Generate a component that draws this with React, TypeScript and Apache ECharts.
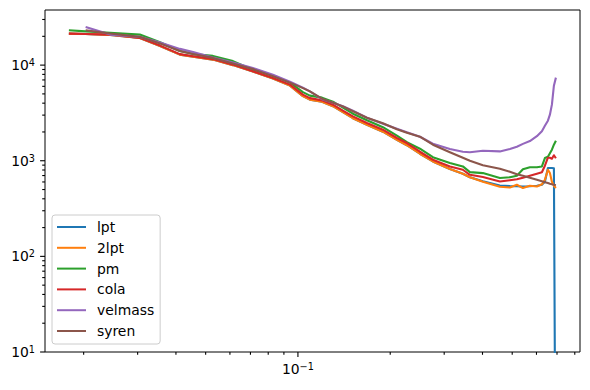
import React, { useEffect, useRef } from "react";
import * as echarts from "echarts";

// wavenumber grid
const k = [0.0179, 0.0203, 0.0244, 0.0305, 0.0355, 0.0412, 0.0455, 0.0528, 0.0614, 0.0713, 0.0829, 0.0942, 0.1038, 0.1094, 0.1198, 0.1301, 0.1402, 0.1511, 0.1679, 0.1893, 0.2103, 0.2267, 0.25, 0.2756, 0.3131, 0.3452, 0.3639, 0.4012, 0.4558, 0.4915, 0.5178, 0.5419, 0.5711, 0.6018, 0.6249, 0.6392, 0.6538, 0.6637, 0.6737, 0.6839, 0.6943];

const lpt = [21370, 21120, 20710, 19180, 15810, 12880, 12270, 11420, 10000, 8551, 7222, 6101, 4737, 4353, 4148, 3721, 3220, 2786, 2382, 2012, 1659, 1453, 1184, 983, 819, 731, 672, 610, 551, 543, 541, 538, 541, 547, 561, 603, 839, 839, 839, 835, 0.05];
const lpt2 = [21370, 21120, 20710, 19180, 15810, 12880, 12270, 11420, 10000, 8551, 7222, 6101, 4737, 4353, 4148, 3721, 3220, 2786, 2382, 2012, 1659, 1453, 1184, 983, 819, 731, 672, 603, 534, 525, 561, 518, 547, 538, 567, 632, 805, 743, 603, 547, 518];
const pm = [23140, 22530, 21790, 20860, 17330, 14020, 13040, 12480, 11010, 8974, 7671, 6559, 5216, 4794, 4568, 4148, 3589, 3105, 2656, 2243, 1827, 1562, 1336, 1088, 946, 872, 761, 743, 659, 672, 696, 815, 855, 855, 872, 1067, 1101, 1198, 1304, 1471, 1620];
const cola = [21370, 21120, 20860, 19270, 16000, 13040, 12360, 11560, 10120, 8613, 7345, 6250, 4911, 4513, 4280, 3858, 3339, 2910, 2481, 2112, 1728, 1532, 1242, 1024, 872, 805, 713, 675, 607, 625, 640, 664, 696, 731, 758, 887, 1075, 1075, 1049, 1141, 1062];
const velmass = [null, 24990, 20860, 19740, 17200, 14780, 13680, 11980, 10620, 9303, 7953, 6719, 5814, 5317, 4406, 4049, 3721, 3339, 2820, 2440, 2163, 1988, 1783, 1507, 1326, 1242, 1227, 1273, 1252, 1329, 1402, 1500, 1608, 1805, 2037, 2325, 2623, 3031, 3858, 6101, 7400];
const syren = [null, 23140, 21370, 19740, 16790, 14020, 13040, 11900, 10370, 9082, 7671, 6559, 5744, 5317, 4459, 4049, 3703, 3298, 2820, 2469, 2137, 1964, 1783, 1471, 1227, 1075, 1000, 897, 825, 767, 722, 696, 664, 632, 610, 595, 584, 574, 567, 561, 554];

const seriesNames = ["lpt", "2lpt", "pm", "cola", "velmass", "syren"];
const seriesValues = [lpt, lpt2, pm, cola, velmass, syren];
const colors = ["#1f77b4", "#ff7f0e", "#2ca02c", "#d62728", "#9467bd", "#8c564b"];

// axis ranges and ticks
const X_MIN = 0.01496;
const X_MAX = 0.832;
const Y_MIN = 10;
const Y_MAX = 37700;
const xMajorTicks = [0.1];
const xMinorTicks = [0.02, 0.03, 0.04, 0.05, 0.06, 0.07, 0.08, 0.09, 0.2, 0.3, 0.4, 0.5, 0.6, 0.7, 0.8];
const yMajorTicks = [10, 100, 1000, 10000];
const yMinorTicks = [20, 30, 40, 50, 60, 70, 80, 90, 200, 300, 400, 500, 600, 700, 800, 900, 2000, 3000, 4000, 5000, 6000, 7000, 8000, 9000, 20000, 30000];

const FONT = "DejaVu Sans";

function sciLabel(v: number): string {
  const l = Math.log10(v);
  const e = Math.round(l);
  if (Math.abs(l - e) > 0.01) return "";
  const es = e < 0 ? "\u2212" + -e : String(e);
  return "{b|10}{s|" + es + "}";
}

const richLabel = {
  b: { fontSize: 13.9, fontFamily: FONT, color: "#000" },
  s: { fontSize: 9.7, fontFamily: FONT, color: "#000", padding: [0, 0, 5, 0], verticalAlign: "bottom" },
};

export default function App() {
  const ref = useRef<HTMLDivElement>(null);
  useEffect(() => {
    if (!ref.current) return;
    const chart = echarts.init(ref.current, undefined, { renderer: "svg" });

    const lineSeries = seriesNames.map((name, i) => ({
      name,
      type: "line",
      data: k.map((x, j) => [x, seriesValues[i][j]]),
      showSymbol: false,
      symbol: "none",
      connectNulls: false,
      clip: true,
      lineStyle: { width: 2.1, color: colors[i], join: "round" },
      itemStyle: { color: colors[i] },
      z: 2 + i * 0.01,
    }));

    const xTickData = [
      ...xMajorTicks.map((v) => [v, Y_MIN, 1]),
      ...xMinorTicks.map((v) => [v, Y_MIN, 0]),
    ];
    const yTickData = [
      ...yMajorTicks.map((v) => [X_MIN, v, 1]),
      ...yMinorTicks.map((v) => [X_MIN, v, 0]),
    ];

    const option = {
      animation: false,
      textStyle: { fontFamily: FONT },
      grid: {
        left: 45,
        top: 10,
        right: 10,
        bottom: 38,
        show: true,
        borderColor: "#000",
        borderWidth: 1,
        backgroundColor: "transparent",
        containLabel: false,
        outerBoundsMode: "none",
      },
      legend: {
        data: seriesNames,
        orient: "vertical",
        left: 52,
        top: 215,
        icon: "rect",
        itemWidth: 29,
        itemHeight: 2,
        itemGap: 6.8,
        padding: [5, 6, 6, 5],
        backgroundColor: "rgba(255,255,255,0.8)",
        borderColor: "#cccccc",
        borderWidth: 1,
        borderRadius: 3,
        textStyle: { fontSize: 13.9, fontFamily: FONT, color: "#000", lineHeight: 14, padding: [0, 0, 0, 6] },
      },
      xAxis: {
        type: "log",
        logBase: 10,
        min: X_MIN,
        max: X_MAX,
        axisLine: { show: false },
        axisTick: { show: false },
        splitLine: { show: false },
        axisLabel: {
          show: true,
          margin: 9,
          showMinLabel: false,
          showMaxLabel: false,
          formatter: (v: number) => sciLabel(v),
          rich: richLabel,
        },
      },
      yAxis: {
        type: "log",
        logBase: 10,
        min: Y_MIN,
        max: Y_MAX,
        axisLine: { show: false },
        axisTick: { show: false },
        splitLine: { show: false },
        axisLabel: {
          show: true,
          margin: 10,
          showMinLabel: true,
          showMaxLabel: false,
          formatter: (v: number) => sciLabel(v),
          rich: richLabel,
        },
      },
      series: [
        ...lineSeries,
        {
          type: "custom",
          name: "xticks",
          data: xTickData,
          clip: false,
          silent: true,
          renderItem: (_p: any, api: any) => {
            const pt = api.coord([api.value(0), api.value(1)]);
            const len = api.value(2) ? 4.9 : 2.8;
            return {
              type: "line",
              shape: { x1: pt[0], y1: pt[1], x2: pt[0], y2: pt[1] + len },
              style: { stroke: "#000", lineWidth: 1.1 },
            };
          },
        },
        {
          type: "custom",
          name: "yticks",
          data: yTickData,
          clip: false,
          silent: true,
          renderItem: (_p: any, api: any) => {
            const pt = api.coord([api.value(0), api.value(1)]);
            const len = api.value(2) ? 4.9 : 2.8;
            return {
              type: "line",
              shape: { x1: pt[0], y1: pt[1], x2: pt[0] - len, y2: pt[1] },
              style: { stroke: "#000", lineWidth: 1.1 },
            };
          },
        },
      ],
    };
    chart.setOption(option as any);
    return () => chart.dispose();
  }, []);
  return (
    <div
      ref={ref}
      style={{ position: "absolute", left: 0, top: 0, width: 590, height: 390, background: "#fff" }}
    />
  );
}
